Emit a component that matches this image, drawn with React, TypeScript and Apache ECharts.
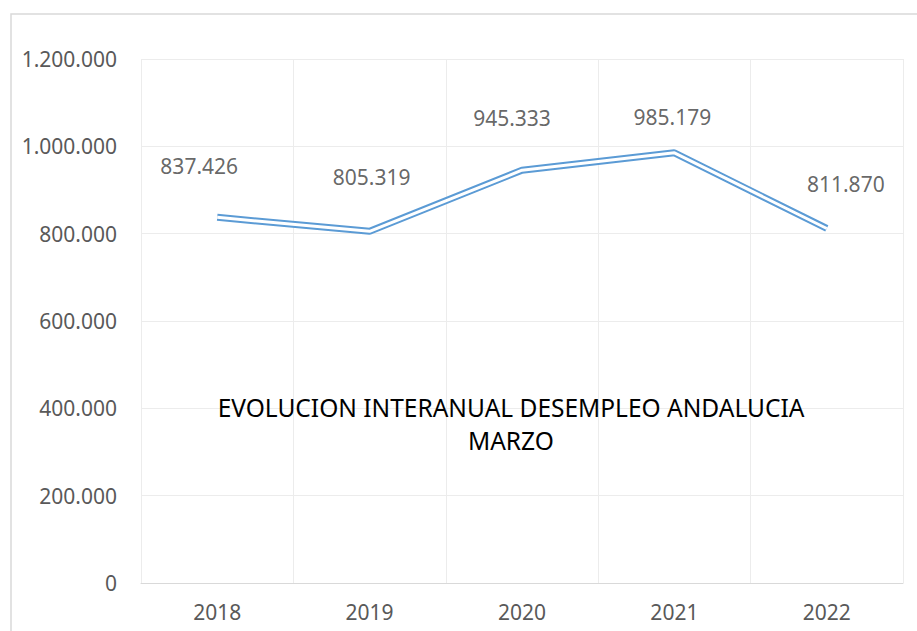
import React, { useEffect, useRef } from "react";
import * as echarts from "echarts";

const categories = ["2018", "2019", "2020", "2021", "2022"];
const values = [837426, 805319, 945333, 985179, 811870];
const yTicks = [0, 200000, 400000, 600000, 800000, 1000000, 1200000];
const titleLines = ["EVOLUCION INTERANUAL DESEMPLEO ANDALUCIA", "MARZO"];

const fmt = (v: number) => String(Math.round(v)).replace(/\B(?=(\d{3})+(?!\d))/g, ".");

export default function App() {
  const ref = useRef<HTMLDivElement>(null);
  useEffect(() => {
    if (!ref.current) return;
    const chart = echarts.init(ref.current, null, { renderer: "svg" });
    const labelShift = [
      [-18, -40],
      [2, -43],
      [-10, -41],
      [-2, -24],
      [19, -33],
    ];
    const font = "'Noto Sans', sans-serif";
    chart.setOption({
      animation: false,
      backgroundColor: "#ffffff",
      grid: { left: 141, right: 14, top: 59, bottom: 48 },
      xAxis: {
        type: "category",
        data: categories,
        boundaryGap: true,
        axisLine: { show: true, lineStyle: { color: "#d9d9d9", width: 1 } },
        axisTick: { show: false },
        splitLine: { show: true, lineStyle: { color: "#ececec", width: 1 } },
        axisLabel: { color: "#595959", fontSize: 21, fontFamily: font, margin: 18 },
      },
      yAxis: {
        type: "value",
        min: yTicks[0],
        max: yTicks[yTicks.length - 1],
        interval: yTicks[1] - yTicks[0],
        axisLine: { show: false },
        axisTick: { show: false },
        splitLine: { show: true, lineStyle: { color: "#ececec", width: 1 } },
        axisLabel: { color: "#595959", fontSize: 21, fontFamily: font, margin: 24, formatter: (v: number) => fmt(v) },
      },
      graphic: [
        {
          type: "rect",
          shape: { x: 11, y: 14, width: 1000, height: 1000 },
          style: { fill: "none", stroke: "#d9d9d9", lineWidth: 1.5 },
          silent: true,
        },
        {
          type: "text",
          x: 511,
          y: 391,
          style: {
            text: titleLines.join("\n"),
            fill: "#000000",
            fontSize: 24.5,
            fontFamily: font,
            align: "center",
            lineHeight: 33,
          },
          z: 10,
        },
      ],
      series: [
        {
          type: "line",
          data: values,
          symbol: "none",
          lineStyle: { color: "#5b9bd5", width: 7 },
          z: 2,
        },
        {
          type: "line",
          data: values,
          symbol: "none",
          lineStyle: { color: "#ffffff", width: 3 },
          z: 3,
        },
        {
          type: "scatter",
          data: values.map((v, i) => ({
            value: v,
            label: {
              show: true,
              position: "top",
              distance: 0,
              offset: labelShift[i],
              color: "#404040",
              fontSize: 21,
              fontFamily: font,
              formatter: fmt(v),
            },
          })),
          symbol: "circle",
          symbolSize: 2,
          itemStyle: { color: "transparent" },
          z: 4,
        },
      ],
    });
    return () => chart.dispose();
  }, []);
  return (
    <div
      ref={ref}
      style={{ position: "fixed", left: 0, top: 0, width: 917, height: 631 }}
    />
  );
}
